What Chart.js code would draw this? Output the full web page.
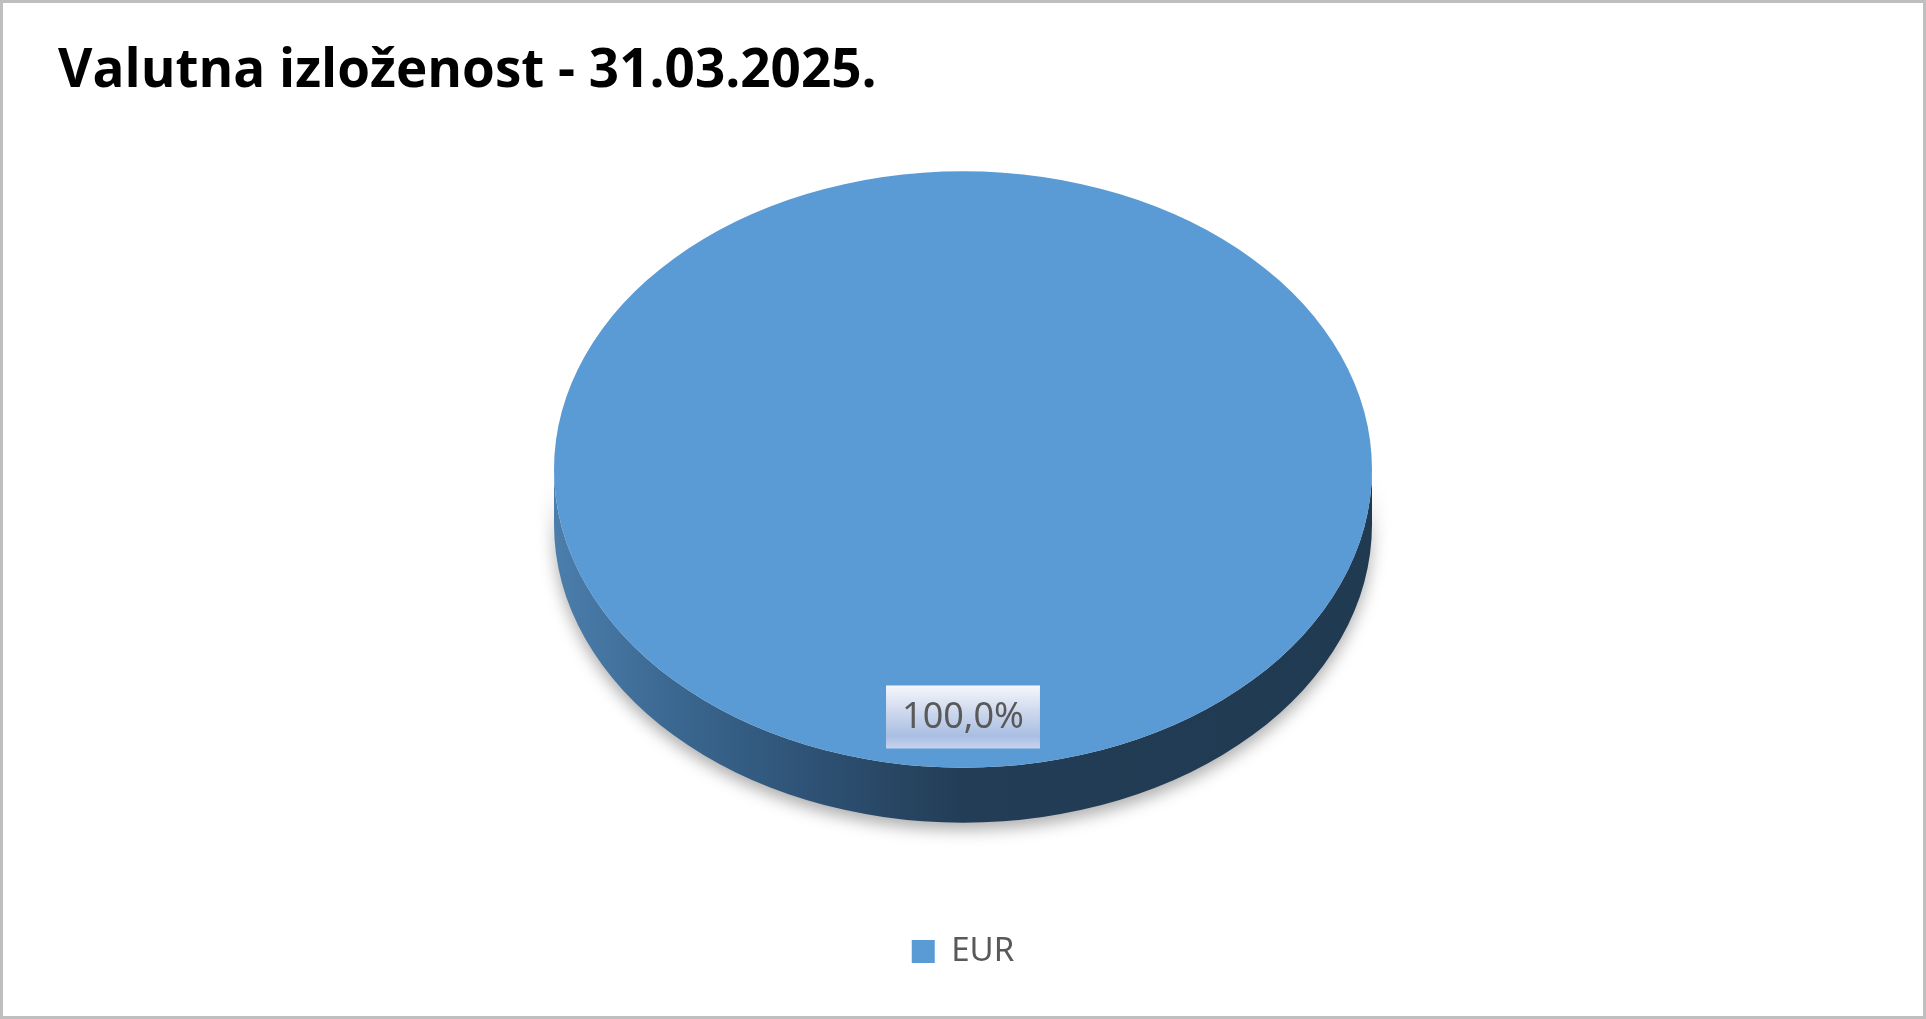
<!DOCTYPE html>
<html>
<head>
<meta charset="utf-8">
<script src="https://cdn.jsdelivr.net/npm/chart.js@4/dist/chart.umd.min.js"></script>
<style>
    html, body { margin: 0; padding: 0; background: #fff; }
    #chartBox { width: 1926px; height: 1019px; box-sizing: border-box; border: 3px solid #bfbfbf; background: #fff; }
    #currencyChart { display: block; }
</style>
</head>
<body>
<div id="chartBox">
    <canvas id="currencyChart" width="1920" height="1013"></canvas>
</div>
<script>
const chartTitle = 'Valutna izloženost - 31.03.2025.';
const currencies = ['EUR'];
const shares = [100.0];
const sliceColors = ['#5b9bd5'];

// look of the tilted pie
const tilt = 0.729;
const depth = 55;
const faceY = 466.5;
const labelDrop = 0.83;

const pie3d = {
    id: 'pie3d',
    beforeDatasetsDraw(chart) {
        let arc = chart.getDatasetMeta(0).data[0];
        let ctx = chart.ctx;
        let rx = arc.outerRadius;
        let ry = rx * tilt;

        ctx.save();
        let grad = ctx.createLinearGradient(arc.x - rx, 0, arc.x + rx, 0);
        grad.addColorStop(0, '#4c7eac');
        grad.addColorStop(0.15, '#3a6790');
        grad.addColorStop(0.33, '#2d5072');
        grad.addColorStop(0.5, '#233d56');
        grad.addColorStop(1, '#203a52');
        ctx.beginPath();
        ctx.ellipse(arc.x, faceY, rx, ry, 0, 0, Math.PI);
        ctx.ellipse(arc.x, faceY + depth, rx, ry, 0, Math.PI, 0, true);
        ctx.closePath();
        ctx.shadowColor = 'rgba(0,0,0,0.32)';
        ctx.shadowBlur = 16;
        ctx.shadowOffsetY = 7;
        ctx.fillStyle = grad;
        ctx.fill();
        ctx.restore();

        ctx.save();
        ctx.translate(arc.x, faceY);
        ctx.scale(1, tilt);
        ctx.translate(-arc.x, -arc.y);
    },
    afterDatasetsDraw(chart) {
        let ctx = chart.ctx;
        ctx.restore();

        let arc = chart.getDatasetMeta(0).data[0];
        let data = chart.data.datasets[0].data;
        let total = data.reduce((a, b) => a + b, 0);
        let text = (data[0] / total * 100).toFixed(1).replace('.', ',') + '%';

        ctx.save();
        ctx.font = '36px "Noto Sans"';
        let w = ctx.measureText(text).width + 32;
        let h = 63;
        let x = arc.x - w / 2;
        let y = faceY + arc.outerRadius * tilt * labelDrop - h / 2;
        let grad = ctx.createLinearGradient(0, y, 0, y + h);
        grad.addColorStop(0, '#f5f7fb');
        grad.addColorStop(0.45, '#cbd6ec');
        grad.addColorStop(0.8, '#a9bee3');
        grad.addColorStop(1, '#c8d4ec');
        ctx.fillStyle = grad;
        ctx.fillRect(x, y, w, h);
        ctx.fillStyle = '#595959';
        ctx.textAlign = 'center';
        ctx.textBaseline = 'middle';
        ctx.fillText(text, arc.x, y + h / 2 + 1);
        ctx.restore();
    }
};

let ctx = document.getElementById('currencyChart');
new Chart(ctx, {
    type: 'pie',
    data: {
        labels: currencies,
        datasets: [{
            data: shares,
            backgroundColor: sliceColors,
            borderWidth: 0,
            radius: 409,
            clip: false
        }]
    },
    options: {
        responsive: false,
        animation: false,
        layout: {
            padding: { left: 55, right: 55, top: 0, bottom: 38 }
        },
        plugins: {
            title: {
                display: true,
                text: chartTitle,
                align: 'start',
                color: '#000000',
                font: { family: 'Open Sans', size: 53, weight: 'bold' },
                padding: { top: 37, bottom: 10 }
            },
            legend: {
                position: 'bottom',
                labels: {
                    boxWidth: 23,
                    boxHeight: 23,
                    color: '#595959',
                    font: { family: 'Noto Sans', size: 33 }
                }
            },
            tooltip: { enabled: false }
        }
    },
    plugins: [pie3d]
});
</script>
</body>
</html>
